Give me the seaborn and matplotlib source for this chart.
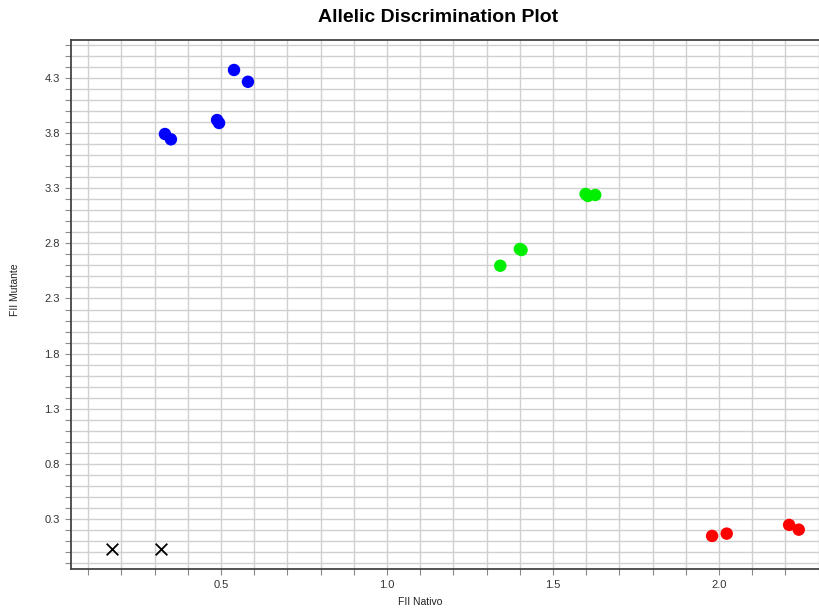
import pandas as pd
import seaborn as sns
import matplotlib.pyplot as plt
from matplotlib.ticker import MultipleLocator, FixedLocator

# allele calls
mutant_x = [0.539, 0.581, 0.488, 0.494, 0.331, 0.349]
mutant_y = [4.373, 4.266, 3.919, 3.892, 3.792, 3.744]

hetero_x = [1.598, 1.605, 1.627, 1.405, 1.400, 1.341]
hetero_y = [3.248, 3.230, 3.239, 2.740, 2.749, 2.597]

native_x = [1.979, 2.023, 2.211, 2.240]
native_y = [0.146, 0.167, 0.246, 0.203]

undet_x = [0.172, 0.318]
undet_y = [0.031, 0.028]

x_ticks = [0.5, 1.0, 1.5, 2.0]
y_ticks = [0.3, 0.8, 1.3, 1.8, 2.3, 2.8, 3.3, 3.8, 4.3]

dots = pd.DataFrame({
    "nativo": mutant_x + hetero_x + native_x,
    "mutante": mutant_y + hetero_y + native_y,
    "call": ["mutant"] * len(mutant_x) + ["hetero"] * len(hetero_x) + ["native"] * len(native_x),
})
undet = pd.DataFrame({"nativo": undet_x, "mutante": undet_y})

sns.set_style("white")
plt.rcParams['font.family'] = ['Liberation Sans', 'DejaVu Sans']

fig = plt.figure(figsize=(8.2, 6.11), dpi=100)
ax = fig.add_axes([71 / 820, 1 - 569 / 611, (819 - 71) / 820, (569 - 40) / 611])

sns.scatterplot(data=dots, x="nativo", y="mutante", hue="call",
                palette={"mutant": "#0000ff", "hetero": "#00ee00", "native": "#ff0000"},
                s=80, linewidth=0, legend=False, ax=ax, zorder=3)
sns.scatterplot(data=undet, x="nativo", y="mutante", marker="x", color="black",
                s=70, linewidth=1.3, ax=ax, zorder=3)

ax.set_xlim(0.048, 2.301)
ax.set_ylim(-0.154, 4.645)

ax.xaxis.set_major_locator(FixedLocator(x_ticks))
ax.yaxis.set_major_locator(FixedLocator(y_ticks))
ax.xaxis.set_minor_locator(MultipleLocator(0.1))
ax.yaxis.set_minor_locator(MultipleLocator(0.1))
ax.grid(which="both", color="#d0d0d0", lw=1.0, zorder=0)
ax.set_axisbelow(True)

ax.tick_params(which="both", direction="out", length=4, width=0.8, color="#888888",
               labelsize=8, labelcolor="#333333", pad=4,
               bottom=True, left=True)
ax.set_xticklabels([f"{v:.1f}" for v in x_ticks])
ax.set_yticklabels([f"{v:.1f}" for v in y_ticks])

ax.spines["right"].set_visible(False)
for side in ["top", "left", "bottom"]:
    ax.spines[side].set_color("#444444")
    ax.spines[side].set_linewidth(1.3)

ax.set_xlabel("")
ax.set_ylabel("")
fig.text(420 / 820, 1 - 602 / 611, "FII Nativo", ha="center", va="center", fontsize=7.5, color="#222222")
fig.text(15 / 820, 1 - 290 / 611, "FII Mutante", ha="center", va="center", rotation=90,
         fontsize=7.5, color="#222222")
fig.text(438 / 820, 1 - 17 / 611, "Allelic Discrimination Plot", ha="center", va="center",
         fontsize=14, fontweight="bold", color="black")

fig.savefig("out.png", dpi=100)
